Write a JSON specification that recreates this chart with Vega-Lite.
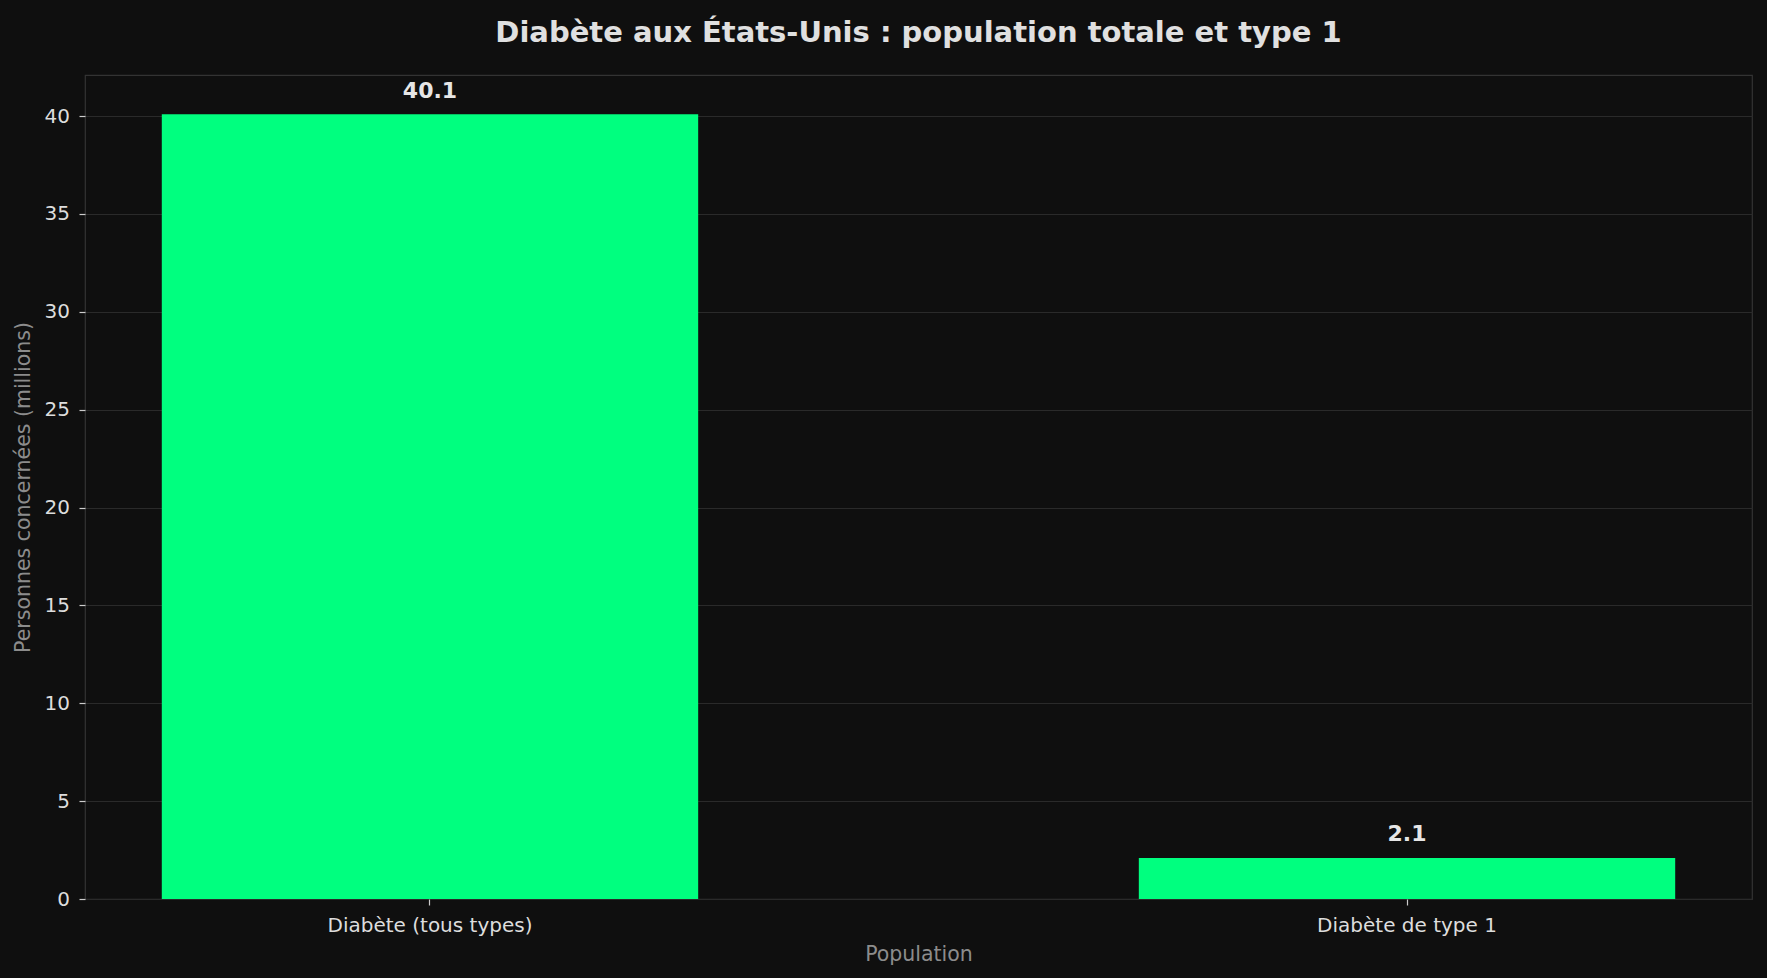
{
  "$schema": "https://vega.github.io/schema/vega-lite/v6.json",
  "autosize": "none",
  "padding": {"left": 85, "top": 75, "right": 15, "bottom": 79},
  "width": 1667,
  "height": 824,
  "background": "#0f0f0f",
  "title": {
    "text": "Diabète aux États-Unis : population totale et type 1",
    "anchor": "middle",
    "font": "DejaVu Sans",
    "fontSize": 29,
    "fontWeight": "bold",
    "color": "#e0e0e0",
    "offset": 27
  },
  "config": {
    "view": {"stroke": "#333333", "strokeWidth": 1.2},
    "font": "DejaVu Sans",
    "axis": {
      "labelFont": "DejaVu Sans",
      "labelFontSize": 20,
      "labelColor": "#dddddd",
      "labelLimit": 0,
      "titleFont": "DejaVu Sans",
      "titleFontSize": 20.5,
      "titleFontWeight": "normal",
      "titleColor": "#8c8c8c",
      "tickColor": "#cccccc",
      "tickSize": 6,
      "tickWidth": 1.2,
      "domain": false,
      "gridColor": "#2a2a2a",
      "gridWidth": 1.2
    }
  },
  "data": {
    "values": [
      {"population": "Diabète (tous types)", "millions": 40.1},
      {"population": "Diabète de type 1", "millions": 2.1}
    ]
  },
  "encoding": {
    "x": {
      "field": "population",
      "type": "nominal",
      "sort": null,
      "title": "Population",
      "scale": {"paddingInner": 0.451, "paddingOuter": 0.0786},
      "axis": {"labelAngle": 0, "grid": false, "labelPadding": 10, "titlePadding": 9}
    },
    "y": {
      "field": "millions",
      "type": "quantitative",
      "title": "Personnes concernées (millions)",
      "scale": {"domain": [0, 42.1], "nice": false},
      "axis": {"values": [0, 5, 10, 15, 20, 25, 30, 35, 40], "labelPadding": 9.5, "titlePadding": 11}
    }
  },
  "layer": [
    {"mark": {"type": "bar", "color": "#00ff7f"}},
    {
      "mark": {
        "type": "text",
        "baseline": "alphabetic",
        "dy": -16.5,
        "fontSize": 22,
        "fontWeight": "bold",
        "color": "#e6e6e6"
      },
      "encoding": {"text": {"field": "millions", "type": "quantitative", "format": ".1f"}}
    }
  ]
}
